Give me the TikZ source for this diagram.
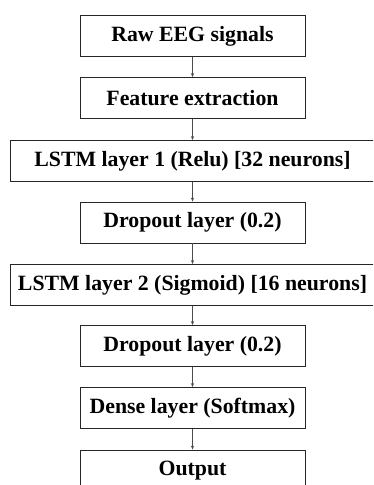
\documentclass[tikz,border=0pt]{standalone}
\usepackage{fontspec}
\setmainfont{Liberation Serif}
\usetikzlibrary{arrows.meta}
\begin{document}
\begin{tikzpicture}[x=1pt,y=-1pt,
  stage/.style={draw=black!85,line width=0.9pt,fill=white,minimum width=225pt,minimum height=41pt,inner sep=0pt,font=\fontsize{21.8}{24}\selectfont\bfseries,text=black},
  widestage/.style={stage,minimum width=365pt},
  flow/.style={draw=black!70,line width=0.6pt,-{Stealth[length=4pt,width=3.2pt]}}]
\clip (0,0) rectangle (373,485);
\fill[white] (0,0) rectangle (373,485);
\node[stage] (raw) at (192.5,36) {Raw EEG signals};
\node[stage] (feat) at (192.5,98) {Feature extraction};
\node[widestage] (lstm1) at (192.5,161) {LSTM layer 1 (Relu) [32 neurons]};
\node[stage] (drop1) at (192.5,222.5) {Dropout layer (0.2)};
\node[widestage] (lstm2) at (192.5,285) {LSTM layer 2 (Sigmoid) [16 neurons]};
\node[stage] (drop2) at (192.5,346) {Dropout layer (0.2)};
\node[stage] (dense) at (192.5,408) {Dense layer (Softmax)};
\node[stage] (out) at (192.5,470.5) {Output};
\draw[flow] (raw) -- (feat);
\draw[flow] (feat) -- (lstm1);
\draw[flow] (lstm1) -- (drop1);
\draw[flow] (drop1) -- (lstm2);
\draw[flow] (lstm2) -- (drop2);
\draw[flow] (drop2) -- (dense);
\draw[flow] (dense) -- (out);
\end{tikzpicture}
\end{document}
